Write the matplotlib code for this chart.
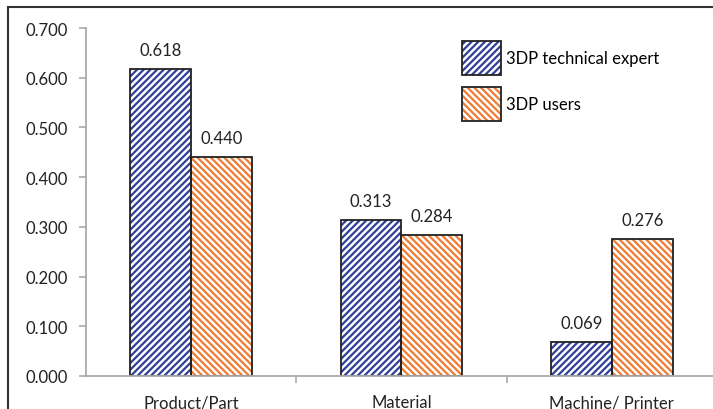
import numpy as np
import matplotlib
matplotlib.use("Agg")
from matplotlib import pyplot as plt
from matplotlib.patches import Patch, Rectangle
from matplotlib.legend_handler import HandlerTuple

categories = ["Product/Part", "Material", "Machine/ Printer"]
expert = [0.618, 0.313, 0.069]
users = [0.440, 0.284, 0.276]
series_names = ["3DP technical expert", "3DP users"]
yticks = [0.0, 0.1, 0.2, 0.3, 0.4, 0.5, 0.6, 0.7]

blue = "#2f3f98"
orange = "#f07b32"
h_exp = "/////"
h_usr = "\\\\\\\\\\"

plt.rcParams["font.family"] = ["Lato", "DejaVu Sans"]
plt.rcParams["hatch.linewidth"] = 1.6

fig = plt.figure(figsize=(7.13, 4.10), dpi=100)
ax = fig.add_axes([86 / 713, 33 / 410, 631 / 713, 348 / 410])

x = np.arange(len(categories))
w = 0.29

# hatch first (coloured edge = hatch colour), then black outline on top
ax.bar(x - w / 2, expert, w, color="white", edgecolor=blue, hatch=h_exp, linewidth=0)
ax.bar(x + w / 2, users, w, color="white", edgecolor=orange, hatch=h_usr, linewidth=0)
ax.bar(x - w / 2, expert, w, fill=False, edgecolor="#222222", linewidth=1.3)
ax.bar(x + w / 2, users, w, fill=False, edgecolor="#222222", linewidth=1.3)

for xi, v in zip(x - w / 2, expert):
    ax.annotate("%.3f" % v, (xi, v), xytext=(0, 8), textcoords="offset points",
                ha="center", va="bottom", fontsize=12, color="#222222")
for xi, v in zip(x + w / 2, users):
    ax.annotate("%.3f" % v, (xi, v), xytext=(0, 8), textcoords="offset points",
                ha="center", va="bottom", fontsize=12, color="#222222")

ax.set_xlim(-0.5, 2.5)
ax.set_ylim(0, 0.7)
ax.set_yticks(yticks)
ax.set_yticklabels(["%.3f" % t for t in yticks], fontsize=12, color="#222222")
ax.set_xticks(x)
ax.set_xticklabels(categories, fontsize=12, color="#222222")
ax.set_xticks([0.5, 1.5, 2.5], minor=True)
ax.tick_params(axis="x", which="major", length=0, pad=13)
ax.tick_params(axis="x", which="minor", length=5, color="#aaaaaa", width=1.2)
ax.tick_params(axis="y", length=5, color="#aaaaaa", width=1.2, pad=8)

for s in ["top", "right"]:
    ax.spines[s].set_visible(False)
for s in ["left", "bottom"]:
    ax.spines[s].set_color("#aaaaaa")
    ax.spines[s].set_linewidth(1.3)

h1 = (Patch(facecolor="white", edgecolor=blue, hatch=h_exp, linewidth=0),
      Patch(fill=False, edgecolor="#222222", linewidth=1.3))
h2 = (Patch(facecolor="white", edgecolor=orange, hatch=h_usr, linewidth=0),
      Patch(fill=False, edgecolor="#222222", linewidth=1.3))
ax.legend([h1, h2], series_names, handler_map={tuple: HandlerTuple(ndivide=1, pad=0)},
          loc="upper left", bbox_to_anchor=(457 / 713, 1 - 37 / 410), bbox_transform=fig.transFigure,
          frameon=False, fontsize=12, handlelength=2.35, handleheight=2.76,
          handletextpad=0.3, labelspacing=0.75, borderpad=0.3, borderaxespad=0)

# figure border (left and top visible)
fig.patches.append(Rectangle((8 / 713, -0.1), 1.2, 1 - 8 / 410 + 0.1, transform=fig.transFigure,
                             fill=False, edgecolor="#333333", linewidth=1.5))

fig.savefig("out.png", dpi=100)
